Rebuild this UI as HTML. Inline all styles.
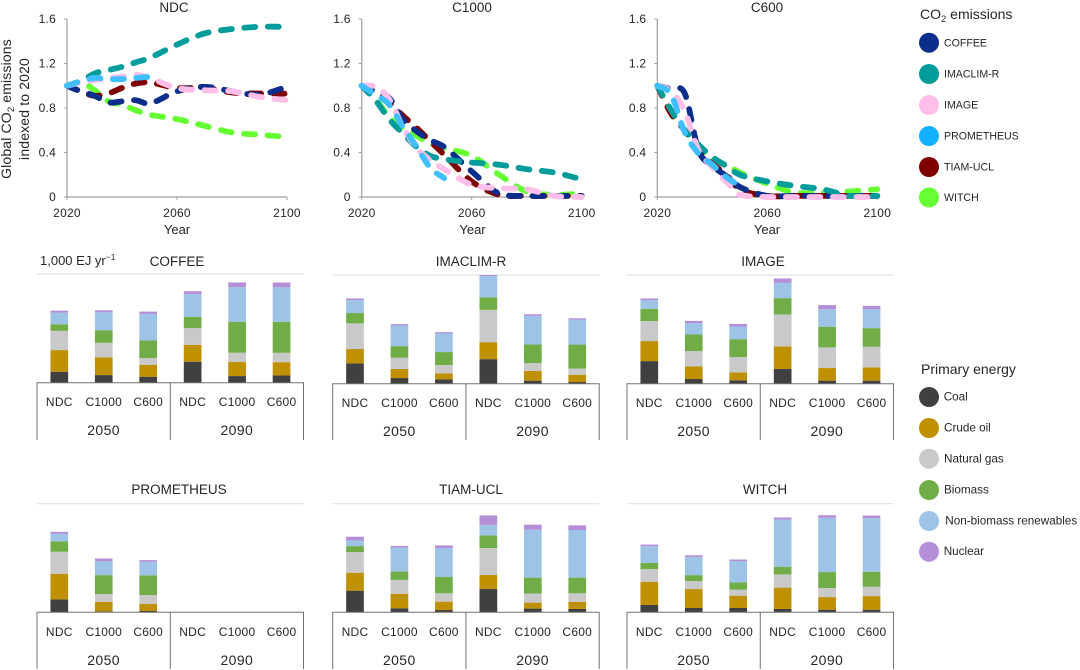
<!DOCTYPE html>
<html lang="en">
<head>
<meta charset="utf-8">
<title>CO2 emissions and primary energy by model</title>
<style>
html,body{margin:0;padding:0;background:#fff;}
svg{display:block;font-family:"Liberation Sans",sans-serif;fill:#262626;}
.tick{font-size:12px;letter-spacing:.25px;}
.title{font-size:13.5px;text-anchor:middle;}
.axt{font-size:13px;}
.year{font-size:14px;letter-spacing:.4px;}
.ytitle{font-size:14px;letter-spacing:.15px;}
.leg{font-size:10.6px;}
.leg2{font-size:11.7px;}
.legh{font-size:14px;}
</style>
</head>
<body>
<svg id="chart" width="1080" height="670" viewBox="0 0 1080 670" xmlns="http://www.w3.org/2000/svg">
  <text class="title" x="174" y="12">NDC</text>
  <text class="title" x="472" y="12">C1000</text>
  <text class="title" x="767" y="12">C600</text>
  <g class="ytitle" text-anchor="middle">
    <text transform="translate(11,109) rotate(-90)">Global CO<tspan font-size="9.5" dy="3">2</tspan><tspan dy="-3"> emissions</tspan></text>
    <text transform="translate(29,109) rotate(-90)">indexed to 2020</text>
  </g>
  <text class="axt" x="177" y="234" text-anchor="middle">Year</text>
  <text class="axt" x="472.5" y="234" text-anchor="middle">Year</text>
  <text class="axt" x="767" y="234" text-anchor="middle">Year</text>

  <text class="axt" x="40" y="265">1,000 EJ yr<tspan font-size="8.5" dy="-5">−1</tspan></text>
  <text class="title" x="177" y="266">COFFEE</text>
  <text class="title" x="471" y="266">IMACLIM-R</text>
  <text class="title" x="763" y="266">IMAGE</text>
  <text class="title" x="179" y="494">PROMETHEUS</text>
  <text class="title" x="471" y="494">TIAM-UCL</text>
  <text class="title" x="765" y="494">WITCH</text>

  <g>
    <text class="legh" x="920" y="19">CO<tspan font-size="9.5" dy="3">2</tspan><tspan dy="-3"> emissions</tspan></text>
    <g><circle cx="929" cy="42.7" r="10" fill="#0b2e8c"/><text class="leg" x="944" y="46.5">COFFEE</text></g>
    <g><circle cx="929" cy="74" r="10" fill="#009b9b"/><text class="leg" x="944" y="77.5">IMACLIM-R</text></g>
    <g><circle cx="929" cy="105" r="10" fill="#ffbfe8"/><text class="leg" x="944" y="108.5">IMAGE</text></g>
    <g><circle cx="929" cy="136" r="10" fill="#12b0ff"/><text class="leg" x="944" y="139.5">PROMETHEUS</text></g>
    <g><circle cx="929" cy="167" r="10" fill="#7f0000"/><text class="leg" x="944" y="170.5">TIAM-UCL</text></g>
    <g><circle cx="929" cy="197.5" r="10" fill="#66ff33"/><text class="leg" x="944" y="201">WITCH</text></g>
  </g>
  <g>
    <text class="legh" x="921" y="374">Primary energy</text>
    <g><circle cx="929" cy="397" r="10" fill="#404040"/><text class="leg2" x="943.7" y="400.5">Coal</text></g>
    <g><circle cx="929" cy="428" r="10" fill="#bf9000"/><text class="leg2" x="944" y="431.5">Crude oil</text></g>
    <g><circle cx="929" cy="458.7" r="10" fill="#c9c9c9"/><text class="leg2" x="944" y="462.5">Natural gas</text></g>
    <g><circle cx="929" cy="490" r="10" fill="#70ad47"/><text class="leg2" x="944" y="493.5">Biomass</text></g>
    <g><circle cx="929" cy="521" r="10" fill="#9dc3e6"/><text class="leg2" x="945.3" y="524.5">Non-biomass renewables</text></g>
    <g><circle cx="929" cy="551.7" r="10" fill="#b58ed8"/><text class="leg2" x="943.7" y="555">Nuclear</text></g>
  </g>
</svg>
<script>
// ---------- line chart data ----------
const years = [2020, 2025, 2030, 2035, 2040, 2045, 2050, 2060, 2070, 2080, 2090, 2100];
const yTickLabels = [0, 0.4, 0.8, 1.2, 1.6];
const xTickLabels = [2020, 2060, 2100];

const ndcWitch      = [1.0, 1.03, 0.96, 0.86, 0.83, 0.78, 0.74, 0.70, 0.64, 0.58, 0.56, 0.54];
const ndcTiam       = [1.0, 0.95, 0.91, 0.93, 0.98, 1.02, 1.03, 0.98, 0.98, 0.94, 0.93, 0.93];
const ndcCoffee     = [1.0, 0.95, 0.91, 0.85, 0.86, 0.87, 0.84, 0.95, 0.99, 0.95, 0.92, 0.99];
const ndcImaclim    = [1.0, 1.04, 1.11, 1.14, 1.17, 1.21, 1.25, 1.37, 1.47, 1.51, 1.53, 1.53];
const ndcImage      = [1.0, 1.03, 1.05, 1.07, 1.08, 1.10, 1.07, 0.98, 0.96, 0.95, 0.90, 0.87];
const ndcPrometheus = [1.0, 1.04, 1.07, 1.06, 1.06, 1.07, 1.08];

const c1000Witch      = [1.0, 0.88, 0.72, 0.62, 0.55, 0.48, 0.44, 0.37, 0.20, 0.05, 0.02, 0.03];
const c1000Tiam       = [1.0, 0.93, 0.85, 0.73, 0.62, 0.50, 0.38, 0.14, 0.02, 0.01, 0.01, 0.01];
const c1000Coffee     = [1.0, 0.95, 0.89, 0.70, 0.59, 0.51, 0.45, 0.23, 0.03, 0.01, 0.01, 0.01];
const c1000Imaclim    = [1.0, 0.87, 0.70, 0.57, 0.45, 0.37, 0.34, 0.31, 0.29, 0.25, 0.22, 0.16];
const c1000Image      = [1.0, 0.99, 0.88, 0.63, 0.44, 0.33, 0.25, 0.11, 0.08, 0.07, 0.01, 0.0];
const c1000Prometheus = [1.0, 0.92, 0.83, 0.63, 0.45, 0.26, 0.17];

const c600Witch      = [1.0, 0.76, 0.60, 0.45, 0.33, 0.29, 0.22, 0.12, 0.04, 0.04, 0.05, 0.07];
const c600Tiam       = [1.0, 0.75, 0.60, 0.42, 0.30, 0.20, 0.07, 0.01, 0.01, 0.01, 0.01, 0.01];
const c600Coffee     = [1.0, 0.97, 0.93, 0.42, 0.28, 0.19, 0.09, 0.01, 0.01, 0.01, 0.01, 0.01];
const c600Imaclim    = [1.0, 0.78, 0.60, 0.47, 0.36, 0.28, 0.20, 0.14, 0.10, 0.07, 0.01, 0.01];
const c600Image      = [1.0, 0.95, 0.77, 0.42, 0.27, 0.14, 0.02, 0.0, 0.0, 0.0, 0.0, 0.0];
const c600Prometheus = [1.0, 0.92, 0.58, 0.39, 0.29, 0.18, 0.10];

// ---------- bar chart data (EJ per year; each row: coal, oil, gas, biomass, renewables, nuclear) ----------
const scenarioLabels = ["NDC", "C1000", "C600", "NDC", "C1000", "C600"];
const yearLabels = ["2050", "2090"];

const barsCoffee = [
  [101, 199, 177, 61, 107, 18], [70, 162, 135, 116, 165, 18], [55, 110, 61, 162, 245, 21],
  [193, 156, 153, 104, 208, 28], [61, 129, 86, 285, 318, 43], [67, 122, 86, 285, 318, 43]
];
const barsImaclim = [
  [187, 132, 236, 95, 119, 15], [52, 83, 104, 107, 190, 12], [40, 55, 77, 119, 171, 12],
  [226, 156, 297, 116, 196, 9], [28, 89, 73, 171, 263, 15], [15, 67, 58, 220, 230, 12]
];
const barsImage = [
  [208, 184, 184, 113, 80, 15], [43, 116, 141, 153, 104, 21], [31, 73, 141, 165, 116, 24],
  [135, 208, 294, 150, 141, 40], [28, 116, 190, 190, 162, 37], [28, 122, 190, 171, 174, 31]
];
const barsPrometheus = [
  [119, 236, 202, 95, 70, 18], [9, 86, 73, 174, 129, 24], [12, 64, 83, 181, 125, 15],
  [0, 0, 0, 0, 0, 0], [0, 0, 0, 0, 0, 0], [0, 0, 0, 0, 0, 0]
];
const barsTiam = [
  [199, 165, 190, 55, 52, 34], [37, 132, 129, 77, 220, 15], [21, 77, 77, 150, 266, 24],
  [214, 129, 248, 116, 98, 86], [34, 55, 83, 147, 441, 46], [31, 64, 80, 144, 438, 43]
];
const barsWitch = [
  [67, 214, 116, 58, 153, 15], [40, 174, 73, 55, 168, 15], [40, 113, 55, 67, 196, 15],
  [31, 196, 122, 70, 435, 18], [24, 116, 83, 147, 499, 24], [24, 125, 86, 138, 493, 24]
];

// ---------- styling and layout ----------
const SVGNS = "http://www.w3.org/2000/svg";
const root = document.getElementById("chart");
const seriesOrder = ["witch", "tiam", "coffee", "imaclim", "image", "prometheus"];
const seriesColors = { witch: "#66ff33", tiam: "#7f0000", coffee: "#0b2e8c", imaclim: "#009b9b", image: "#ffbfe8", prometheus: "#3fbfff" };
const fuelNames = ["coal", "crude-oil", "natural-gas", "biomass", "renewables", "nuclear"];
const fuelColors = ["#404040", "#bf9000", "#c9c9c9", "#70ad47", "#9dc3e6", "#b58ed8"];

function node(tag, attrs, parent) {
  const el = document.createElementNS(SVGNS, tag);
  for (const k in attrs) el.setAttribute(k, attrs[k]);
  (parent || root).appendChild(el);
  return el;
}

const lineTop = 19, lineBottom = 197, lineWidth = 220, yMax = 1.6;
function yScale(v) { return lineBottom - (v / yMax) * (lineBottom - lineTop); }
function xScale(year, x0) { return x0 + ((year - 2020) / 80) * lineWidth; }

function smoothPath(pts) {
  let d = "M" + pts[0][0].toFixed(2) + " " + pts[0][1].toFixed(2);
  const tan = pts.map((p, i) => {
    const a = pts[Math.max(i - 1, 0)], b = pts[Math.min(i + 1, pts.length - 1)];
    return (b[1] - a[1]) / (b[0] - a[0]);
  });
  for (let i = 0; i < pts.length - 1; i++) {
    const p = pts[i], q = pts[i + 1], h = (q[0] - p[0]) / 3;
    const c1y = Math.min(p[1] + tan[i] * h, lineBottom);
    const c2y = Math.min(q[1] - tan[i + 1] * h, lineBottom);
    d += "C" + (p[0] + h).toFixed(2) + " " + c1y.toFixed(2) + " " + (q[0] - h).toFixed(2) + " " + c2y.toFixed(2) + " " + q[0].toFixed(2) + " " + q[1].toFixed(2);
  }
  return d;
}

function drawLinePanel(name, x0, showTicks, seriesMap) {
  const g = node("g", {});
  
  
  const axis = node("path", {
    d: "M" + x0 + " " + lineTop + "V" + lineBottom + "H" + (x0 + lineWidth),
    fill: "none", stroke: "#a0a0a0", "stroke-width": 1.2
  }, g);
  
  
  yTickLabels.forEach(v => {
    const y = yScale(v);
    node("line", { x1: x0 - 3, x2: x0, y1: y, y2: y, stroke: "#a0a0a0", "stroke-width": 1 }, g);
    const t = node("text", { x: x0 - 11, y: y + 4, "text-anchor": "end", class: "tick" }, g);
    t.textContent = v === 0 ? "0" : v.toFixed(1);
    
    
  });
  xTickLabels.forEach(v => {
    const x = xScale(v, x0);
    node("line", { x1: x, x2: x, y1: lineBottom, y2: lineBottom + 3, stroke: "#a0a0a0", "stroke-width": 1 }, g);
    const t = node("text", { x: x, y: 217, "text-anchor": "middle", class: "tick" }, g);
    t.textContent = String(v);
    
    
  });
  seriesOrder.forEach(s => {
    const vals = seriesMap[s];
    const pts = vals.map((v, i) => [xScale(years[i], x0), yScale(v)]);
    const p = node("path", {
      d: smoothPath(pts), fill: "none", stroke: seriesColors[s], "stroke-width": 5.8,
      "stroke-linecap": "round", "stroke-linejoin": "round", "stroke-dasharray": "11 12.5"
    }, g);
    
    
  });
}

drawLinePanel("ndc", 67, true, { witch: ndcWitch, tiam: ndcTiam, coffee: ndcCoffee, imaclim: ndcImaclim, image: ndcImage, prometheus: ndcPrometheus });
drawLinePanel("c1000", 361.7, true, { witch: c1000Witch, tiam: c1000Tiam, coffee: c1000Coffee, imaclim: c1000Imaclim, image: c1000Image, prometheus: c1000Prometheus });
drawLinePanel("c600", 657.3, true, { witch: c600Witch, tiam: c600Tiam, coffee: c600Coffee, imaclim: c600Imaclim, image: c600Image, prometheus: c600Prometheus });

const pxPerEJ = 108.7 / 1000, barWidth = 17.7, panelWidth = 266.5, barStep = 44.45, barOffset = 22.3;
function barHeight(v) { return v * pxPerEJ; }

function drawBarPanel(name, left, top, base, bottom, rows) {
  const g = node("g", {});
  
  
  const rule = node("line", { x1: left, x2: left + panelWidth, y1: top, y2: top, stroke: "#e2e2e2", "stroke-width": 1.2 }, g);
  
  
  rows.forEach((row, b) => {
    const cx = left + barOffset + b * barStep;
    let acc = 0;
    row.forEach((v, f) => {
      if (v <= 0) return;
      const h = barHeight(v);
      const r = node("rect", { x: cx - barWidth / 2, y: base - acc - h, width: barWidth, height: h, fill: fuelColors[f] }, g);
      
      
      acc += h;
    });
    const t = node("text", { x: cx, y: base + 23.5, "text-anchor": "middle", class: "tick" }, g);
    t.textContent = scenarioLabels[b];
    
    
  });
  const mid = left + panelWidth / 2;
  const frame = node("path", {
    d: "M" + left + " " + bottom + "V" + base + "H" + (left + panelWidth) + "V" + bottom + "M" + mid + " " + base + "V" + bottom,
    fill: "none", stroke: "#707070", "stroke-width": 1
  }, g);
  
  
  yearLabels.forEach((lab, i) => {
    const t = node("text", { x: left + panelWidth * (i === 0 ? 0.25 : 0.75), y: base + 52.5, "text-anchor": "middle", class: "year" }, g);
    t.textContent = lab;
    
    
  });
}

drawBarPanel("coffee", 37, 274, 382.7, 440, barsCoffee);
drawBarPanel("imaclim", 332.7, 275, 383.7, 440, barsImaclim);
drawBarPanel("image", 627, 275, 383.7, 440, barsImage);
drawBarPanel("prometheus", 37, 503.7, 612.3, 669, barsPrometheus);
drawBarPanel("tiam", 332.7, 503.7, 612.3, 669, barsTiam);
drawBarPanel("witch", 627, 503.7, 612.3, 669, barsWitch);
</script>
</body>
</html>
